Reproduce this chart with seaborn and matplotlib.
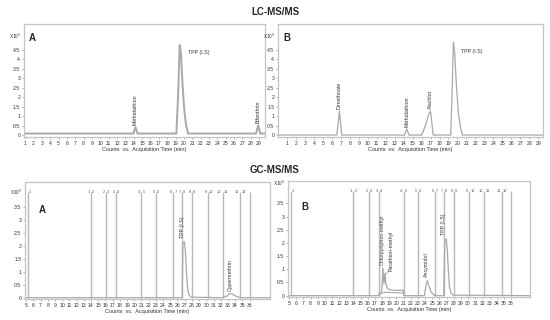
import matplotlib
matplotlib.use("Agg")
import matplotlib.pyplot as plt
import seaborn as sns
import numpy as np

# ---------------- data ----------------
lcA_time = [0.85, 13.95, 14.2, 14.45, 19.1, 19.3, 19.5, 19.65, 19.85, 20.05, 20.25, 20.5, 28.65, 28.9, 29.15, 29.7]
lcA_counts = [0.08, 0.08, 0.42, 0.08, 0.08, 2.0, 4.75, 4.3, 2.6, 1.3, 0.55, 0.08, 0.08, 0.52, 0.08, 0.08]

lcB_time = [0.0, 6.55, 6.85, 7.1, 14.1, 14.35, 14.6, 16.0, 16.4, 16.8, 17.0, 17.3, 19.25, 19.4, 19.55, 19.7, 19.9, 20.1, 20.3, 20.55, 29.55]
lcB_counts = [0.0, 0.0, 1.25, 0.0, 0.0, 0.32, 0.0, 0.0, 0.45, 1.1, 1.25, 0.0, 0.0, 2.2, 4.9, 4.3, 2.5, 1.2, 0.5, 0.0, 0.0]

gcA_time = [4.85, 26.65, 26.75, 26.95, 27.1, 27.25, 27.4, 27.6, 27.9, 32.3, 32.6, 32.9, 33.15, 33.5, 33.8, 34.2, 34.7, 38.8]
gcA_counts = [0.0, 0.0, 2.1, 2.15, 1.75, 0.95, 0.35, 0.1, 0.02, 0.0, 0.05, 0.06, 0.15, 0.16, 0.1, 0.05, 0.0, 0.0]

gcB_time = [4.85, 17.5, 17.6, 17.95, 18.1, 18.25, 18.4, 18.5, 18.65, 18.9, 19.4, 20.95, 21.0, 23.9, 24.1, 24.3, 24.5, 24.8, 25.3,
            26.6, 26.75, 26.95, 27.1, 27.25, 27.4, 27.6, 27.9, 38.65]
gcB_counts = [0.0, 0.0, 0.1, 0.15, 1.05, 0.45, 0.85, 0.5, 0.32, 0.24, 0.21, 0.2, 0.0, 0.0, 0.35, 0.57, 0.4, 0.15, 0.0,
              0.0, 2.1, 2.15, 1.75, 0.95, 0.35, 0.1, 0.02, 0.0]
gcB_low_time = [17.55, 18.0, 18.5, 20.95]
gcB_low_counts = [0.03, 0.1, 0.13, 0.1]

gc_segments = [5.25, 14.0, 16.1, 17.5, 21.0, 23.0, 25.4, 26.6, 28.05, 30.2, 32.25, 34.7, 36.05]

lc_xticks = list(range(1, 30))
lc_yticks = [0, 0.5, 1, 1.5, 2, 2.5, 3, 3.5, 4, 4.5]
gc_xticks = list(range(5, 37))
gc_yticks = [0, 0.5, 1, 1.5, 2, 2.5, 3, 3.5]

# ---------------- style ----------------
sns.set_theme(style="white")
plt.rcParams["font.family"] = ["Liberation Sans", "DejaVu Sans"]

TRACE = "#a8a8a8"
FRAME = "#c4c4c4"
TXT = "#333333"

fig = plt.figure(figsize=(5.5, 3.2), dpi=100)

axLA = fig.add_axes([0.0436, 0.572, 0.438, 0.353])
axLB = fig.add_axes([0.5055, 0.572, 0.482, 0.353])
axGA = fig.add_axes([0.0455, 0.0656, 0.445, 0.366])
axGB = fig.add_axes([0.5236, 0.0719, 0.440, 0.3625])


def style(ax, xticks, yticks, xlim, ylim, xtop):
    ax.set_xlim(*xlim)
    ax.set_ylim(*ylim)
    ax.set_xticks(xticks)
    ax.set_xticklabels([str(v) for v in xticks])
    ax.set_yticks(yticks)
    ax.set_yticklabels([f"{v:g}" for v in yticks])
    for s in ax.spines.values():
        s.set_color(FRAME)
        s.set_linewidth(0.9)
    ax.tick_params(axis="both", which="both", length=1.5, width=0.4, color="#777777",
                   labelsize=3.7, pad=1.2, labelcolor=TXT, bottom=True, left=True)
    ax.set_xlabel("Counts  vs.  Acquisition Time (min)", fontsize=4, color=TXT, labelpad=1)
    ax.set_ylabel("")
    ax.text(-0.012, xtop, "X10$^5$", transform=ax.get_yaxis_transform(), ha="right", va="center",
            fontsize=3.4, color=TXT)
    ax.grid(False)


# LC A
sns.lineplot(x=lcA_time, y=lcA_counts, estimator=None, sort=False, ax=axLA, color=TRACE, lw=1.4)
style(axLA, lc_xticks, lc_yticks, (0.85, 29.7), (-0.1, 5.85), 5.2)
axLA.text(0.02, 0.92, "A", transform=axLA.transAxes, fontsize=7, fontweight="bold", va="top")
axLA.text(14.2, 0.55, "Methidathion", rotation=90, fontsize=3.8, ha="center", va="bottom", color=TXT)
axLA.text(20.5, 4.35, "TPP (I.S)", fontsize=3.8, ha="left", va="center", color=TXT)
axLA.text(28.9, 0.62, "Bifenthrin", rotation=90, fontsize=3.8, ha="center", va="bottom", color=TXT)

# LC B
sns.lineplot(x=lcB_time, y=lcB_counts, estimator=None, sort=False, ax=axLB, color=TRACE, lw=0.9)
style(axLB, lc_xticks, lc_yticks, (0.0, 29.55), (-0.1, 5.85), 5.2)
axLB.text(0.02, 0.92, "B", transform=axLB.transAxes, fontsize=7, fontweight="bold", va="top")
axLB.text(6.85, 1.38, "Dimethoate", rotation=90, fontsize=3.8, ha="center", va="bottom", color=TXT)
axLB.text(14.35, 0.45, "Methidathion", rotation=90, fontsize=3.8, ha="center", va="bottom", color=TXT)
axLB.text(16.95, 1.38, "Alachlor", rotation=90, fontsize=3.8, ha="center", va="bottom", color=TXT)
axLB.text(20.4, 4.4, "TPP (I.S)", fontsize=3.8, ha="left", va="center", color=TXT)


def segments(ax, top):
    ax.vlines(gc_segments, 0, top, colors="#b8b8b8", lw=1.0)
    n = len(gc_segments)
    for i, xs in enumerate(gc_segments):
        if i < n - 1:
            ax.text(xs + 0.15, top, str(i + 1), fontsize=2.8, ha="left", va="center", color="#555555")
        if 0 < i < n - 1:
            ax.text(xs - 0.15, top, str(i), fontsize=2.8, ha="right", va="center", color="#555555")


# GC A
segments(axGA, 4.05)
sns.lineplot(x=gcA_time, y=gcA_counts, estimator=None, sort=False, ax=axGA, color=TRACE, lw=0.9)
style(axGA, gc_xticks, gc_yticks, (4.85, 38.8), (-0.05, 4.45), 4.05)
axGA.text(0.055, 0.8, "A", transform=axGA.transAxes, fontsize=7, fontweight="bold", va="top")
axGA.text(26.65, 2.3, "TPP (I.S)", rotation=90, fontsize=3.8, ha="center", va="bottom", color=TXT)
axGA.text(33.35, 0.25, "Cypermethrin", rotation=90, fontsize=3.8, ha="center", va="bottom", color=TXT)

# GC B
segments(axGB, 3.98)
sns.lineplot(x=gcB_low_time, y=gcB_low_counts, estimator=None, sort=False, ax=axGB, color=TRACE, lw=0.8)
sns.lineplot(x=gcB_time, y=gcB_counts, estimator=None, sort=False, ax=axGB, color=TRACE, lw=0.9)
style(axGB, gc_xticks, gc_yticks, (4.85, 38.65), (-0.05, 4.35), 4.25)
axGB.text(0.055, 0.82, "B", transform=axGB.transAxes, fontsize=7, fontweight="bold", va="top")
axGB.text(18.05, 1.15, "Chlorpyriphos-methyl", rotation=90, fontsize=3.8, ha="center", va="bottom", color=TXT)
axGB.text(19.3, 0.95, "Parathion-methyl", rotation=90, fontsize=3.8, ha="center", va="bottom", color=TXT)
axGB.plot([18.45, 18.95], [0.8, 0.95], color="#888888", lw=0.4)
axGB.text(24.25, 0.7, "Ancymidol", rotation=90, fontsize=3.8, ha="center", va="bottom", color=TXT)
axGB.text(26.6, 2.3, "TPP (I.S)", rotation=90, fontsize=3.8, ha="center", va="bottom", color=TXT)

fig.text(0.5, 0.9625, "LC-MS/MS", ha="center", va="center", fontsize=7, fontweight="bold")
fig.text(0.5, 0.469, "GC-MS/MS", ha="center", va="center", fontsize=7, fontweight="bold")

fig.savefig("out.png", dpi=100)
